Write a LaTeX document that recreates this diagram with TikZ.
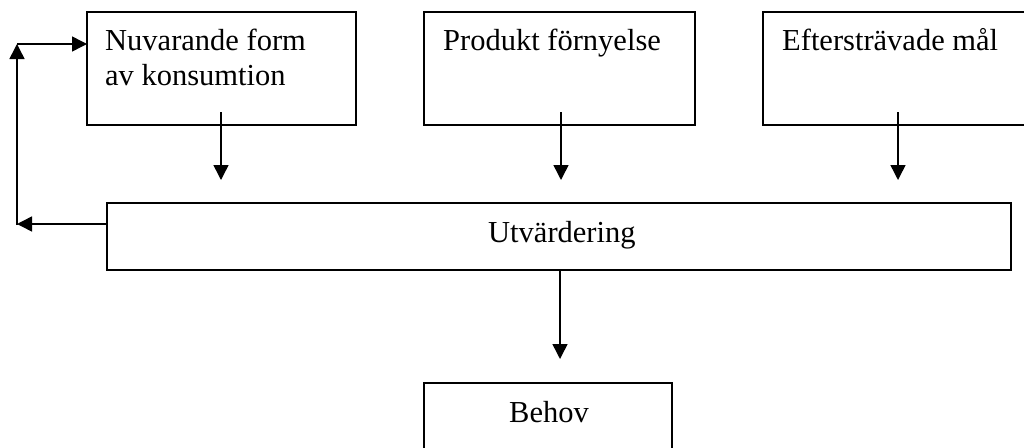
\documentclass[tikz,border=0pt]{standalone}
\usepackage{fontspec}
\setmainfont{Liberation Serif}
\usetikzlibrary{arrows.meta}
\begin{document}
\begin{tikzpicture}[x=1pt,y=-1pt,
  boxline/.style={draw=black,line width=1.6pt},
  lbl/.style={anchor=base west,inner sep=0pt,font=\fontsize{30.5}{35}\selectfont,align=left},
  arr/.style={line width=1.5pt,-{Triangle[length=15pt,width=15pt]}},
  plain/.style={line width=1.5pt}]
\useasboundingbox (0,0) rectangle (1024,447);
\clip (0,0) rectangle (1024,447);
% boxes
\draw[boxline] (87,12) rectangle (356,125);
\draw[boxline] (424,12) rectangle (695,125);
\draw[boxline] (763,12) rectangle (1040,125);
\draw[boxline] (107,203) rectangle (1011,270);
\draw[boxline] (424,383) rectangle (672,460);
% named anchors
\coordinate (b1s) at (221,112); \coordinate (b1e) at (221,180);
\coordinate (b2s) at (561,112); \coordinate (b2e) at (561,180);
\coordinate (b3s) at (898,112); \coordinate (b3e) at (898,180);
\coordinate (uw) at (107,224);
\coordinate (fl) at (17,224);
\coordinate (ft) at (17,44);
\coordinate (b1w) at (87,44);
\coordinate (ub) at (560,270); \coordinate (be) at (560,359);
% labels
\node[lbl] (t1) at (105,85) {Nuvarande form\\av konsumtion};
\node[lbl] (t2) at (443,50) {Produkt förnyelse};
\node[lbl] (t3) at (782,50) {Eftersträvade mål};
\node[lbl] (t4) at (488,242) {Utvärdering};
\node[lbl] (t5) at (509,422) {Behov};
% arrows
\draw[arr] (b1s) -- (b1e);
\draw[arr] (b2s) -- (b2e);
\draw[arr] (b3s) -- (b3e);
\draw[arr] (uw) -- (fl);
\draw[plain] (17,225) -- (fl);
\draw[arr] (fl) -- (ft);
\draw[arr] (ft) -- (b1w);
\draw[arr] (ub) -- (be);
\end{tikzpicture}
\end{document}
